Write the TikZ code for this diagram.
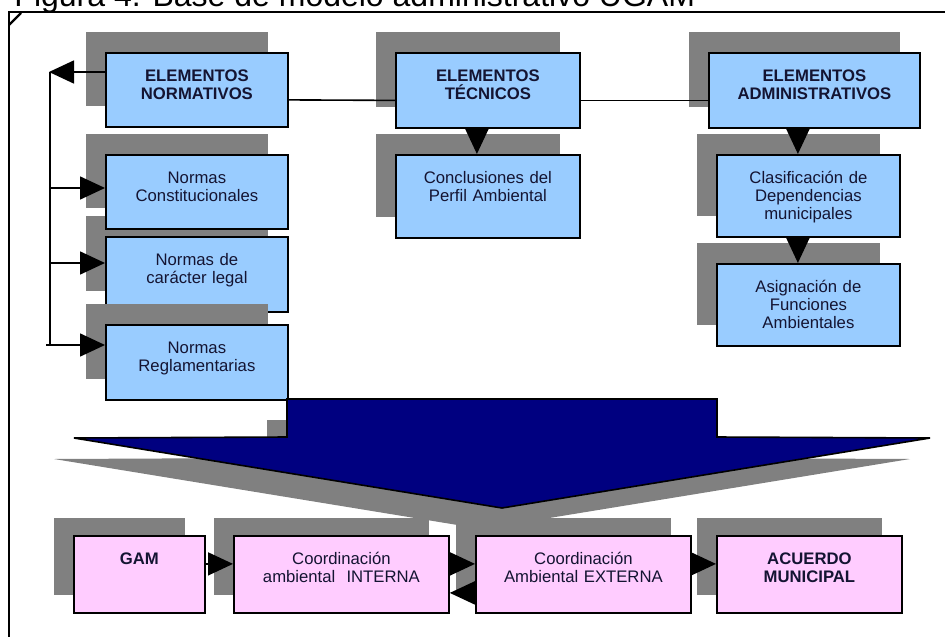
\documentclass[tikz,border=0pt]{standalone}
\usepackage{fontspec}
\setmainfont{Liberation Sans}
\usetikzlibrary{arrows.meta,shadows}

\definecolor{boxblue}{RGB}{153,204,255}
\definecolor{boxpink}{RGB}{255,204,255}
\definecolor{shadowgray}{RGB}{128,128,128}
\definecolor{navy}{RGB}{0,0,128}
\definecolor{textnavy}{RGB}{20,20,50}

\tikzset{
  box/.style={draw, line width=0.9pt, inner sep=0pt, anchor=north west, align=center,
    text height=14.5pt, text=textnavy, font=\fontsize{8.35}{9}\selectfont},
  bold/.style={font=\fontsize{8.35}{9}\selectfont\bfseries},
  bluebox/.style={box, fill=boxblue,
    drop shadow={shadow xshift=-10pt, shadow yshift=10.5pt, fill=shadowgray, opacity=1}},
  pinkbox/.style={box, fill=boxpink,
    drop shadow={shadow xshift=-9.75pt, shadow yshift=9pt, fill=shadowgray, opacity=1}},
  sz/.style 2 args={text width=#1, text depth=#2},
  bigtip/.style={-{Triangle[length=12.5pt,width=11.5pt]}},
}

\newcommand{\bigarrow}{(287,399) -- (717,399) -- (717,437) -- (930,438) -- (502,508) -- (74,438) -- (287,437) -- cycle}

\begin{document}
\begin{tikzpicture}[x=0.5pt, y=-0.5pt, line width=0.8pt]
\clip (0,0) rectangle (945,636);

% title and frame
\node[anchor=base west, font=\fontsize{16}{19}\selectfont] (title) at (7,7) {Figura 4. Base de modelo administrativo UGAM};
\draw[line width=1pt] (9,660) -- (9,12.5) -- (970,12.5);
\draw[line width=1.2pt] (9,25) -- (21,13);

% normative column
\node[bluebox, bold, sz={91pt}{22.5pt}] (b1) at (105,52) {ELEMENTOS\\NORMATIVOS};
\node[bluebox, sz={91pt}{23pt}] (n3) at (105,236) {Normas de\\carácter legal};
\node[bluebox, sz={91pt}{22.5pt}] (n2) at (105,154) {Normas\\Constitucionales};
\node[bluebox, sz={91pt}{23pt}] (n4) at (105,324) {Normas\\Reglamentarias};

% technical column
\node[bluebox, bold, sz={92pt}{23pt}] (t1) at (395,52) {ELEMENTOS\\TÉCNICOS};
\node[bluebox, sz={92pt}{27pt}] (t2) at (395,154) {Conclusiones del\\Perfil Ambiental};

% administrative column
\node[bluebox, bold, sz={105.5pt}{23pt}] (a1) at (708,52) {ELEMENTOS\\ADMINISTRATIVOS};
\node[bluebox, sz={91.5pt}{26.5pt}] (a2) at (716,154) {Clasificación de\\Dependencias\\municipales};
\node[bluebox, sz={91.5pt}{26.5pt}] (a3) at (716,263) {Asignación de\\Funciones\\Ambientales};

% bus on the left
\coordinate (bustop) at (49,72);
\coordinate (j2) at (50,188);
\coordinate (j3) at (50,263);
\coordinate (j4) at (46,345);

\draw[bigtip] (b1.west |- bustop) -- (bustop);
\draw (50,72) -- (j2) -- (j3) -- (50,345);
\draw[bigtip] (j2) -- (j2 -| n2.west);
\draw[bigtip] (j3) -- (j3 -| n3.west);
\draw[bigtip] (j4) -- (j4 -| n4.west);

\draw ([yshift=-5pt]b1.east) -- ([yshift=-5pt]t1.west);
\draw ([yshift=-5pt]t1.east) -- ([yshift=-5pt]a1.west);
\draw[bigtip] ([xshift=-5.5pt]t1.south) -- ([xshift=-5.5pt]t1.south |- t2.north);
\draw[bigtip] ([xshift=-8.25pt]a1.south) -- ([xshift=-8.25pt]a1.south |- a2.north);
\draw[bigtip] ([xshift=-5.25pt]a2.south) -- ([xshift=-5.25pt]a2.south |- a3.north);

% big arrow
\fill[shadowgray, shift={(-20,21)}] \bigarrow;
\draw[fill=navy] \bigarrow;

% bottom row
\node[pinkbox, bold, sz={65.5pt}{24pt}] (g1) at (73,535) {GAM};
\node[pinkbox, sz={107.5pt}{24pt}] (g2) at (233,535) {Coordinación\\ambiental\ \ INTERNA};
\node[pinkbox, sz={107.5pt}{24pt}] (g3) at (475,535) {Coordinación\\Ambiental EXTERNA};
\node[pinkbox, bold, sz={92.5pt}{24pt}] (g4) at (716,535) {ACUERDO\\MUNICIPAL};

\draw[bigtip] ([yshift=5.25pt]g1.east) -- ([yshift=5.25pt]g2.west);
\draw[bigtip] ([yshift=5.25pt]g2.east) -- ([yshift=5.25pt]g3.west);
\draw[bigtip] ([yshift=-9.25pt]g3.west) -- ([yshift=-9.25pt]g2.east);
\draw[bigtip] ([yshift=5.25pt]g3.east) -- ([yshift=5.25pt]g4.west);
\end{tikzpicture}
\end{document}
